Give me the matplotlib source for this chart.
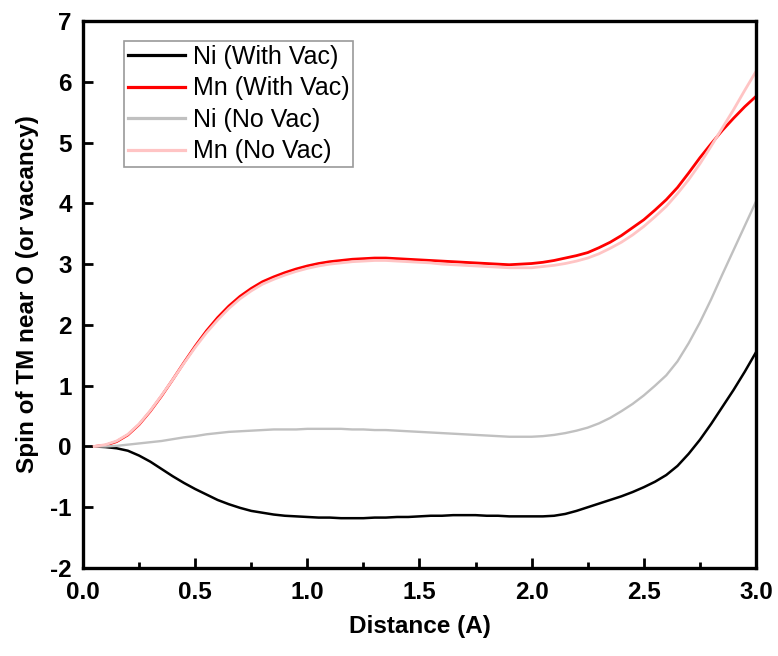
import matplotlib
matplotlib.use("Agg")
import matplotlib.pyplot as plt
from matplotlib.ticker import MultipleLocator

plt.rcParams['font.family'] = ['Liberation Sans', 'DejaVu Sans']
plt.rcParams['axes.unicode_minus'] = False

distance = [0.05, 0.10, 0.15, 0.20, 0.25, 0.30, 0.35, 0.40, 0.45, 0.50,
            0.55, 0.60, 0.65, 0.70, 0.75, 0.80, 0.85, 0.90, 0.95, 1.00,
            1.05, 1.10, 1.15, 1.20, 1.25, 1.30, 1.35, 1.40, 1.45, 1.50,
            1.55, 1.60, 1.65, 1.70, 1.75, 1.80, 1.85, 1.90, 1.95, 2.00,
            2.05, 2.10, 2.15, 2.20, 2.25, 2.30, 2.35, 2.40, 2.45, 2.50,
            2.55, 2.60, 2.65, 2.70, 2.75, 2.80, 2.85, 2.90, 2.95, 3.00]

ni_with_vac = [0.0, -0.01, -0.03, -0.07, -0.15, -0.25, -0.37, -0.49, -0.60, -0.70,
               -0.79, -0.88, -0.95, -1.01, -1.06, -1.09, -1.12, -1.14, -1.15, -1.16,
               -1.17, -1.17, -1.18, -1.18, -1.18, -1.17, -1.17, -1.16, -1.16, -1.15,
               -1.14, -1.14, -1.13, -1.13, -1.13, -1.14, -1.14, -1.15, -1.15, -1.15,
               -1.15, -1.14, -1.11, -1.06, -1.00, -0.94, -0.88, -0.82, -0.75, -0.67,
               -0.58, -0.47, -0.32, -0.12, 0.11, 0.37, 0.65, 0.93, 1.23, 1.55]

mn_with_vac = [0.0, 0.02, 0.08, 0.19, 0.36, 0.58, 0.83, 1.10, 1.38, 1.65,
               1.90, 2.12, 2.31, 2.47, 2.60, 2.71, 2.79, 2.86, 2.92, 2.97,
               3.01, 3.04, 3.06, 3.08, 3.09, 3.10, 3.10, 3.09, 3.08, 3.07,
               3.06, 3.05, 3.04, 3.03, 3.02, 3.01, 3.00, 2.99, 3.00, 3.01,
               3.03, 3.06, 3.10, 3.14, 3.19, 3.27, 3.36, 3.47, 3.60, 3.73,
               3.89, 4.06, 4.26, 4.50, 4.75, 4.98, 5.20, 5.40, 5.59, 5.76]

ni_no_vac = [0.0, 0.0, 0.01, 0.03, 0.05, 0.07, 0.09, 0.12, 0.15, 0.17,
             0.20, 0.22, 0.24, 0.25, 0.26, 0.27, 0.28, 0.28, 0.28, 0.29,
             0.29, 0.29, 0.29, 0.28, 0.28, 0.27, 0.27, 0.26, 0.25, 0.24,
             0.23, 0.22, 0.21, 0.20, 0.19, 0.18, 0.17, 0.16, 0.16, 0.16,
             0.17, 0.19, 0.22, 0.26, 0.31, 0.38, 0.47, 0.58, 0.70, 0.84,
             1.00, 1.17, 1.40, 1.70, 2.04, 2.42, 2.83, 3.23, 3.63, 4.03]

mn_no_vac = [0.0, 0.03, 0.09, 0.20, 0.37, 0.59, 0.84, 1.10, 1.37, 1.63,
             1.87, 2.08, 2.27, 2.43, 2.56, 2.67, 2.75, 2.82, 2.88, 2.93,
             2.97, 3.00, 3.02, 3.04, 3.05, 3.06, 3.06, 3.05, 3.04, 3.03,
             3.02, 3.00, 2.99, 2.98, 2.97, 2.96, 2.95, 2.94, 2.94, 2.94,
             2.96, 2.98, 3.01, 3.05, 3.10, 3.17, 3.26, 3.36, 3.48, 3.62,
             3.78, 3.95, 4.16, 4.39, 4.65, 4.94, 5.24, 5.54, 5.86, 6.17]

labels = ["Ni (With Vac)", "Mn (With Vac)", "Ni (No Vac)", "Mn (No Vac)"]
x_ticks = [0.0, 0.5, 1.0, 1.5, 2.0, 2.5, 3.0]
x_tick_labels = ["0.0", "0.5", "1.0", "1.5", "2.0", "2.5", "3.0"]

fig = plt.figure(figsize=(7.78, 6.56), dpi=100)
ax = fig.add_axes([0.1067, 0.1341, 0.8650, 0.8339])

ax.plot(distance, ni_with_vac, color='black', lw=1.8, label=labels[0])
ax.plot(distance, mn_with_vac, color='#ff0000', lw=2.0, label=labels[1])
ax.plot(distance, ni_no_vac, color='#c0c0c0', lw=1.7, label=labels[2])
ax.plot(distance, mn_no_vac, color='#ffc4c4', lw=2.0, label=labels[3])

ax.set_xlim(0, 3.0)
ax.set_ylim(-2, 7)
ax.set_xticks(x_ticks)
ax.set_xticklabels(x_tick_labels)
ax.xaxis.set_minor_locator(MultipleLocator(0.25))
ax.yaxis.set_major_locator(MultipleLocator(1))

for s in ax.spines.values():
    s.set_linewidth(2.4)
ax.tick_params(which='major', direction='in', length=7.5, width=2.0, labelsize=17.5,
               top=False, right=False)
ax.tick_params(axis='x', which='major', pad=9)
ax.tick_params(axis='y', which='major', pad=8)
ax.tick_params(which='minor', direction='in', length=4.5, width=2.0, top=False, right=False)
for lab in ax.get_xticklabels() + ax.get_yticklabels():
    lab.set_fontweight('bold')

ax.set_xlabel("Distance (A)", fontsize=17.5, fontweight='bold', labelpad=8)
ax.set_ylabel("Spin of TM near O (or vacancy)", fontsize=17.5, fontweight='bold', labelpad=8)

leg = ax.legend(loc='upper left', bbox_to_anchor=(0.061, 0.963), fontsize=18, frameon=True,
                fancybox=False, edgecolor='#808080', handlelength=2.3, handletextpad=0.3,
                labelspacing=0.3, borderpad=0.15, borderaxespad=0)
leg.get_frame().set_linewidth(1.2)
for h in leg.legend_handles:
    h.set_linewidth(2.3)

fig.savefig("out.png", dpi=100)
